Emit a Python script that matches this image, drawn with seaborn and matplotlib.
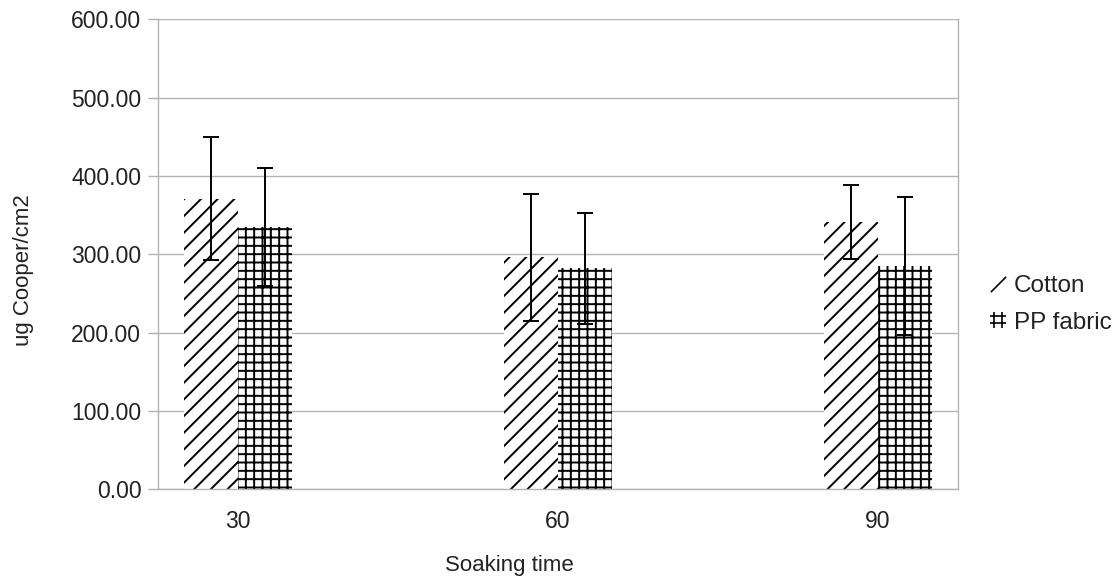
import numpy as np
import pandas as pd
import matplotlib
matplotlib.use("Agg")
import matplotlib.pyplot as plt
from matplotlib.lines import Line2D
from matplotlib.path import Path
import seaborn as sns

# values
times = ["30", "60", "90"]
cotton = [371, 296, 341]
cotton_err = [78, 81, 47]
pp_fabric = [335, 282, 285]
pp_err = [75, 71, 88]
series = ["Cotton", "PP fabric"]
yticks = [0, 100, 200, 300, 400, 500, 600]

df = pd.DataFrame({
    "time": times * 2,
    "value": cotton + pp_fabric,
    "fabric": [series[0]] * 3 + [series[1]] * 3,
})
errs = {series[0]: cotton_err, series[1]: pp_err}
hatches = {series[0]: "//", series[1]: "++"}

# empty slots between the categories, like the original spreadsheet chart
order = ["30", " ", "60", "  ", "90"]

sns.set_style("white")
plt.rcParams["font.family"] = ["Liberation Sans", "DejaVu Sans"]
plt.rcParams["hatch.linewidth"] = 1.4

fig = plt.figure(figsize=(11.2, 5.83), dpi=100)
ax = fig.add_axes([0.141, 0.161, 0.714, 0.806])

sns.barplot(data=df, x="time", y="value", hue="fabric", order=order,
            hue_order=series, width=0.675, errorbar=None, ax=ax,
            color="white", legend=False)

for cont, name in zip(ax.containers, series):
    bars = sorted(cont.patches, key=lambda p: p.get_x())
    xs = []
    for b in bars:
        b.set_facecolor("white")
        b.set_edgecolor("black")
        b.set_hatch(hatches[name])
        b.set_linewidth(0)
        xs.append(b.get_x() + b.get_width() / 2)
    vals = df.loc[df.fabric == name, "value"].to_numpy()
    ax.errorbar(xs, vals, yerr=errs[name], fmt="none", ecolor="black",
                elinewidth=1.4, capsize=6, capthick=1.4, zorder=5)

ax.set_ylim(0, 600)
ax.set_xlim(-0.5, 4.5)
ax.set_yticks(yticks)
ax.set_yticklabels([f"{v:.2f}" for v in yticks], fontsize=16.5, color="#222222")
ax.yaxis.grid(True, color="#b3b3b3", linewidth=1)
ax.set_axisbelow(True)

ax.set_xticks([0, 2, 4])
ax.set_xticklabels(times, fontsize=16.5, color="#222222")
ax.set_xticks(np.arange(-0.5, 5.0, 1.0), minor=True)
ax.tick_params(axis="x", which="major", length=0, pad=15)
ax.tick_params(axis="x", which="minor", length=7, color="#b3b3b3", width=1)
ax.tick_params(axis="y", length=7, color="#b3b3b3", width=1, pad=5, left=True)

for s in ax.spines.values():
    s.set_color("#b3b3b3")
    s.set_linewidth(1)
ax.spines["top"].set_visible(False)

ax.set_xlabel("Soaking time", fontsize=16, color="#222222")
ax.set_ylabel("ug Cooper/cm2", fontsize=16, color="#222222")
ax.xaxis.set_label_coords(0.44, -0.14)
ax.yaxis.set_label_coords(-0.155, 0.466)

# small legend glyphs like the original
slash = Path([(-1, -1), (1, 1)], [Path.MOVETO, Path.LINETO])
grid = Path([(-0.5, -1), (-0.5, 1), (0.5, -1), (0.5, 1),
             (-1, -0.4), (1, -0.4), (-1, 0.5), (1, 0.5)],
            [Path.MOVETO, Path.LINETO] * 4)
handles = [
    Line2D([], [], linestyle="none", marker=slash, markersize=11,
           markeredgecolor="black", markeredgewidth=1.2, label=series[0]),
    Line2D([], [], linestyle="none", marker=grid, markersize=11,
           markeredgecolor="black", markeredgewidth=1.2, label=series[1]),
]
leg = ax.legend(handles=handles, loc="center left", bbox_to_anchor=(1.0, 0.393),
                frameon=False, fontsize=17.5, handlelength=0.6,
                handletextpad=0.35, labelspacing=0.6, borderaxespad=0.95)
for t in leg.get_texts():
    t.set_color("#222222")

fig.savefig("out.png", dpi=100)
